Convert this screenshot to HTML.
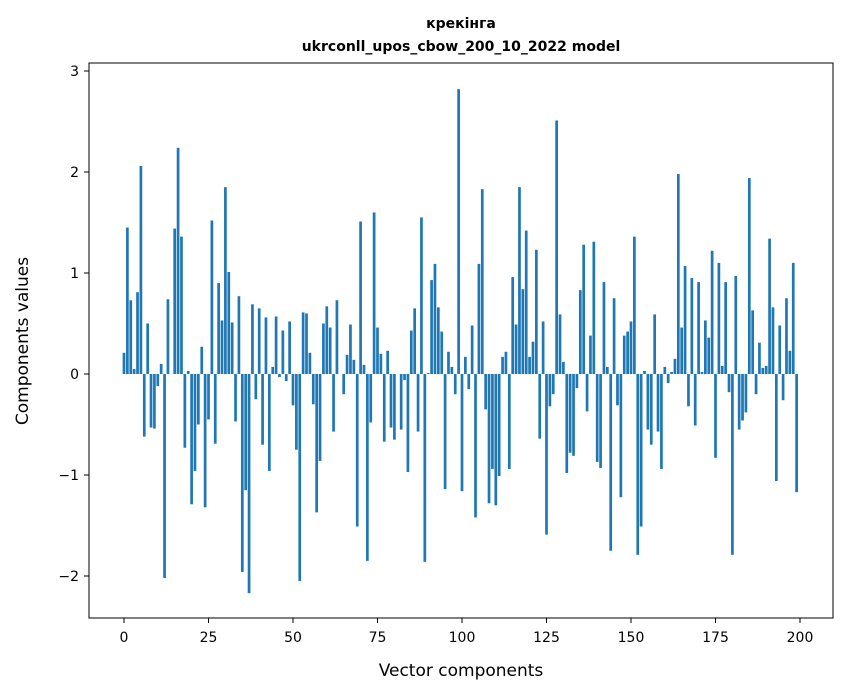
<!DOCTYPE html>
<html><head><meta charset="utf-8"><style>
html,body{margin:0;padding:0;background:#fff;}
svg{display:block;font-family:"DejaVu Sans","Liberation Sans",sans-serif;}
</style></head><body>
<svg id="chart" width="847" height="696" xmlns="http://www.w3.org/2000/svg">
<rect width="847" height="696" fill="#fff"/>
<text x="461" y="28" text-anchor="middle" font-size="14" font-weight="bold">крекінга</text>
<text x="461" y="51" text-anchor="middle" font-size="14" font-weight="bold">ukrconll_upos_cbow_200_10_2022 model</text>
<g id="bars"></g>
<g id="xticks"></g>
<g id="yticks"></g>
<rect x="89" y="63" width="744" height="555" fill="none" stroke="#000" stroke-width="1"/>
<text x="461" y="676" text-anchor="middle" font-size="17">Vector components</text>
<text transform="translate(28,341) rotate(-90)" text-anchor="middle" font-size="17">Components values</text>
</svg>
<script>
const values = [
0.21,1.45,0.73,0.05,0.81,2.06,-0.62,0.5,-0.53,-0.54,
-0.12,0.1,-2.02,0.74,0.0,1.44,2.24,1.36,-0.73,0.03,
-1.29,-0.96,-0.5,0.27,-1.32,-0.45,1.52,-0.69,0.9,0.53,
1.85,1.01,0.51,-0.47,0.77,-1.96,-1.15,-2.17,0.69,-0.25,
0.65,-0.7,0.56,-0.96,0.07,0.57,-0.03,0.43,-0.07,0.52,
-0.31,-0.75,-2.05,0.61,0.6,0.21,-0.3,-1.37,-0.86,0.5,
0.67,0.46,-0.57,0.73,0.0,-0.2,0.19,0.49,0.14,-1.51,
1.51,0.09,-1.85,-0.48,1.6,0.46,0.2,-0.67,0.23,-0.53,
-0.65,0.0,-0.55,-0.06,-0.97,0.43,0.65,-0.57,1.55,-1.86,
0.01,0.93,1.09,0.66,0.42,-1.14,0.22,0.07,-0.2,2.82,
-1.16,0.17,-0.15,0.48,-1.42,1.09,1.83,-0.35,-1.28,-0.94,
-1.3,-1.01,0.17,0.22,-0.94,0.96,0.49,1.85,0.84,1.42,
0.17,0.32,1.23,-0.64,0.52,-1.59,-0.32,-0.2,2.51,0.59,
0.12,-0.98,-0.78,-0.81,-0.14,0.83,1.28,-0.37,0.38,1.31,
-0.87,-0.93,0.91,0.07,-1.75,0.75,-0.31,-1.22,0.38,0.42,
0.52,1.36,-1.79,-1.51,0.03,-0.55,-0.7,0.59,-0.57,-0.94,
0.07,-0.09,0.02,0.15,1.98,0.46,1.07,-0.32,0.95,-0.51,
0.91,0.02,0.53,0.36,1.22,-0.83,1.1,0.08,0.91,-0.18,
-1.79,0.97,-0.55,-0.46,-0.38,1.94,0.63,-0.2,0.31,0.06,
0.08,1.34,0.66,-1.06,0.48,-0.26,0.75,0.23,1.1,-1.17
];
const xTickValues = [0,25,50,75,100,125,150,175,200];
const yTickValues = [-2,-1,0,1,2,3];
const yTickLabels = ["\u22122","\u22121","0","1","2","3"];

const NS = "http://www.w3.org/2000/svg";
function xScale(i){ return 124 + 3.38 * i; }
function yScale(v){ return 374 - 101 * v; }
const barW = 0.8 * 3.38;

const bars = document.getElementById('bars');
values.forEach((v, i) => {
  const r = document.createElementNS(NS, 'rect');
  const y0 = yScale(0), y1 = yScale(v);
  r.setAttribute('x', xScale(i) - barW / 2);
  r.setAttribute('y', Math.min(y0, y1));
  r.setAttribute('width', barW);
  r.setAttribute('height', Math.max(Math.abs(y1 - y0), 0.01));
  r.setAttribute('fill', '#1f77b4');
  
  
  bars.appendChild(r);
});

const xt = document.getElementById('xticks');
xTickValues.forEach(t => {
  const x = xScale(t);
  const l = document.createElementNS(NS, 'line');
  l.setAttribute('x1', x); l.setAttribute('x2', x);
  l.setAttribute('y1', 618); l.setAttribute('y2', 623);
  l.setAttribute('stroke', '#000');
  
  
  xt.appendChild(l);
  const tx = document.createElementNS(NS, 'text');
  tx.setAttribute('x', x); tx.setAttribute('y', 642);
  tx.setAttribute('text-anchor', 'middle');
  tx.setAttribute('font-size', '14');
  tx.textContent = String(t);
  
  
  xt.appendChild(tx);
});

const yt = document.getElementById('yticks');
yTickValues.forEach((t, k) => {
  const y = yScale(t);
  const l = document.createElementNS(NS, 'line');
  l.setAttribute('x1', 84); l.setAttribute('x2', 89);
  l.setAttribute('y1', y); l.setAttribute('y2', y);
  l.setAttribute('stroke', '#000');
  
  
  yt.appendChild(l);
  const tx = document.createElementNS(NS, 'text');
  tx.setAttribute('x', 79); tx.setAttribute('y', y + 5);
  tx.setAttribute('text-anchor', 'end');
  tx.setAttribute('font-size', '14');
  tx.textContent = yTickLabels[k];
  
  
  yt.appendChild(tx);
});
</script>
</body></html>
